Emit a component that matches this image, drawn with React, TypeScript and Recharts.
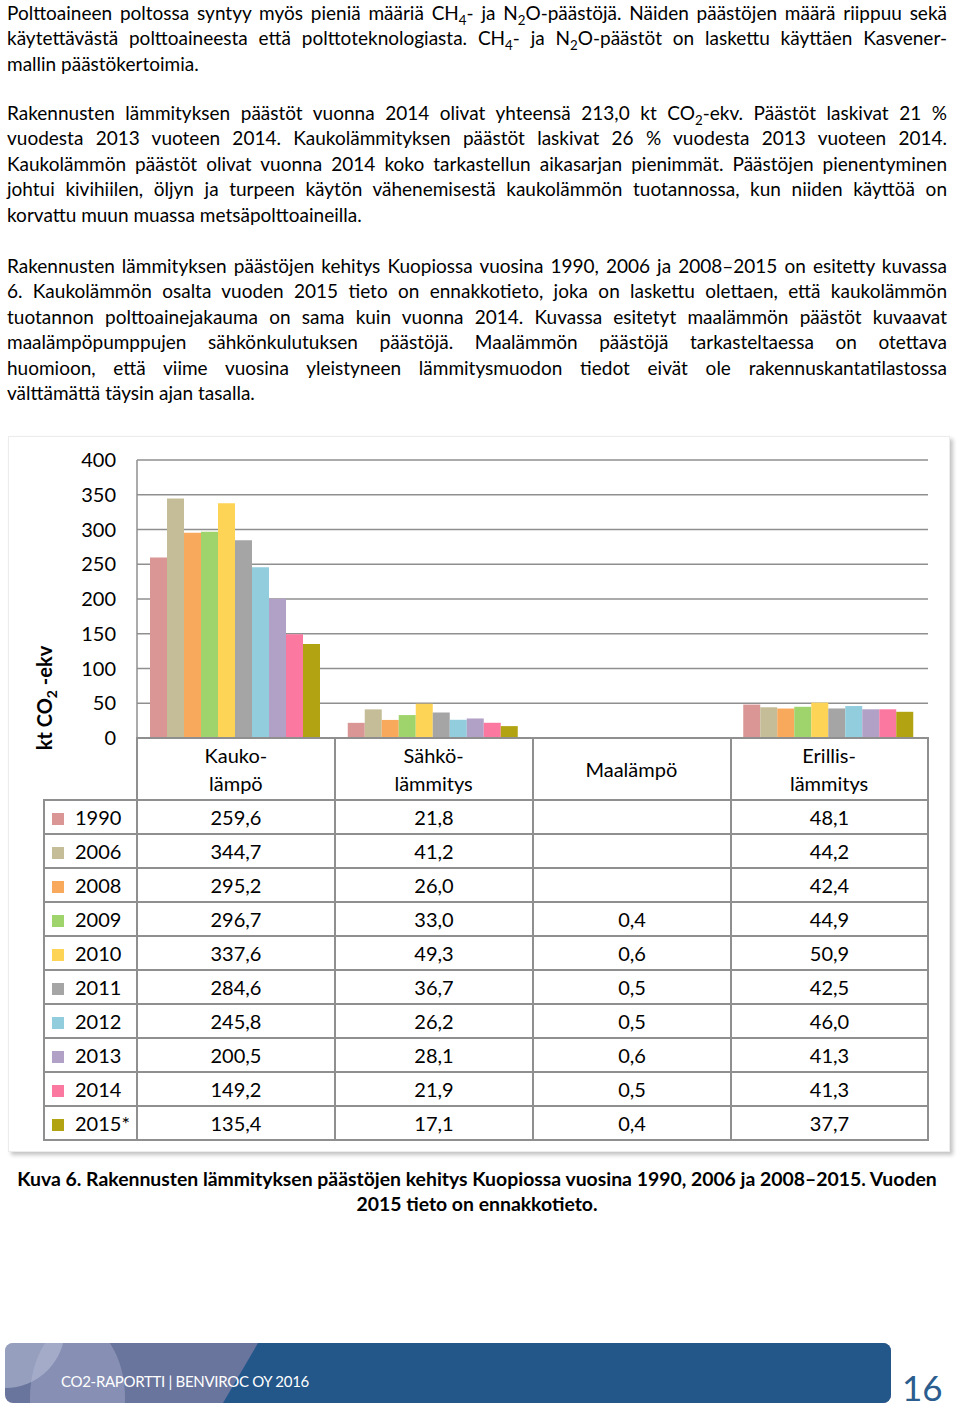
import React from 'react';
import { BarChart, Bar, XAxis, YAxis, CartesianGrid } from 'recharts';

const years = ['1990', '2006', '2008', '2009', '2010', '2011', '2012', '2013', '2014', '2015*'];
const yearColors = ['#d99694', '#c4bd97', '#f9a95b', '#9fd36b', '#fdd456', '#a5a5a5', '#92cddd', '#b2a1c7', '#fb78a0', '#b1a312'];
const categories = ['Kauko-\nlämpö', 'Sähkö-\nlämmitys', 'Maalämpö', 'Erillis-\nlämmitys'];

const kaukolampo = [259.6, 344.7, 295.2, 296.7, 337.6, 284.6, 245.8, 200.5, 149.2, 135.4];
const sahkolammitys = [21.8, 41.2, 26.0, 33.0, 49.3, 36.7, 26.2, 28.1, 21.9, 17.1];
const maalampo = [null, null, null, 0.4, 0.6, 0.5, 0.5, 0.6, 0.5, 0.4];
const erillislammitys = [48.1, 44.2, 42.4, 44.9, 50.9, 42.5, 46.0, 41.3, 41.3, 37.7];

const yTicks = [0, 50, 100, 150, 200, 250, 300, 350, 400];

const seriesByCategory = [kaukolampo, sahkolammitys, maalampo, erillislammitys];

const data = categories.map((name, c) => {
  const row: Record<string, any> = { name };
  years.forEach((_, i) => {
    row['y' + i] = seriesByCategory[c][i];
  });
  return row;
});

const FONT = 'Lato, "Open Sans", sans-serif';
const GRID = '#8f8f8f';

const fmt = (v: number | null) => (v == null ? '' : v.toFixed(1).replace('.', ','));

// "CH_4" -> CH<sub>4</sub>
const rich = (s: string) =>
  s.split(/_(\d)/).map((part, i) =>
    i % 2 === 1 ? (
      <sub key={i} style={{ fontSize: '0.7em', lineHeight: 0 }}>
        {part}
      </sub>
    ) : (
      <React.Fragment key={i}>{part}</React.Fragment>
    )
  );

const paragraphs: { top: number; lines: string[] }[] = [
  {
    top: 0,
    lines: [
      'Polttoaineen poltossa syntyy myös pieniä määriä CH_4- ja N_2O-päästöjä. Näiden päästöjen määrä riippuu sekä',
      'käytettävästä polttoaineesta että polttoteknologiasta. CH_4- ja N_2O-päästöt on laskettu käyttäen Kasvener-',
      'mallin päästökertoimia.',
    ],
  },
  {
    top: 100,
    lines: [
      'Rakennusten lämmityksen päästöt vuonna 2014 olivat yhteensä 213,0 kt CO_2-ekv. Päästöt laskivat 21 %',
      'vuodesta 2013 vuoteen 2014. Kaukolämmityksen päästöt laskivat 26 % vuodesta 2013 vuoteen 2014.',
      'Kaukolämmön päästöt olivat vuonna 2014 koko tarkastellun aikasarjan pienimmät. Päästöjen pienentyminen',
      'johtui kivihiilen, öljyn ja turpeen käytön vähenemisestä kaukolämmön tuotannossa, kun niiden käyttöä on',
      'korvattu muun muassa metsäpolttoaineilla.',
    ],
  },
  {
    top: 253,
    lines: [
      'Rakennusten lämmityksen päästöjen kehitys Kuopiossa vuosina 1990, 2006 ja 2008–2015 on esitetty kuvassa',
      '6. Kaukolämmön osalta vuoden 2015 tieto on ennakkotieto, joka on laskettu olettaen, että kaukolämmön',
      'tuotannon polttoainejakauma on sama kuin vuonna 2014. Kuvassa esitetyt maalämmön päästöt kuvaavat',
      'maalämpöpumppujen sähkönkulutuksen päästöjä. Maalämmön päästöjä tarkasteltaessa on otettava',
      'huomioon, että viime vuosina yleistyneen lämmitysmuodon tiedot eivät ole rakennuskantatilastossa',
      'välttämättä täysin ajan tasalla.',
    ],
  },
];

const CatTick = (props: any) => {
  const { x, y, payload } = props;
  const lines = String(payload.value).split('\n');
  const offsets = lines.length === 1 ? [29] : [15, 43];
  return (
    <g>
      {lines.map((l, i) => (
        <text
          key={i}
          x={x}
          y={y + offsets[i]}
          textAnchor="middle"
          dominantBaseline="central"
          fontFamily={FONT}
          fontSize={20}
          fill="#000"
        >
          {l}
        </text>
      ))}
    </g>
  );
};

const cell: React.CSSProperties = {
  border: `2px solid ${GRID}`,
  padding: 0,
  textAlign: 'center',
  verticalAlign: 'middle',
};

export default function App() {
  return (
    <div
      style={{
        position: 'absolute',
        left: 0,
        top: 0,
        width: 960,
        height: 1407,
        background: '#fff',
        fontFamily: FONT,
        color: '#000',
        overflow: 'hidden',
      }}
    >
      {paragraphs.map((p, pi) => (
        <div key={pi} style={{ position: 'absolute', left: 7, top: p.top, width: 940, fontSize: 19, lineHeight: '25.4px' }}>
          {p.lines.map((l, li) => (
            <div
              key={li}
              style={{
                textAlign: 'justify',
                textAlignLast: li === p.lines.length - 1 ? 'left' : 'justify',
                height: 25.4,
              }}
            >
              {rich(l)}
            </div>
          ))}
        </div>
      ))}

      {/* chart frame */}
      <div
        style={{
          position: 'absolute',
          left: 8,
          top: 436,
          width: 940,
          height: 714,
          border: '1px solid #ececec',
          boxShadow: '3px 3px 4px #c4c4c4',
        }}
      />

      <div style={{ position: 'absolute', left: 0, top: 430 }}>
        <BarChart
          width={960}
          height={370}
          data={data}
          margin={{ top: 30, right: 32, left: 77, bottom: 0 }}
          barCategoryGap={13}
          barGap={0}
        >
          <CartesianGrid vertical={false} stroke={GRID} strokeWidth={1.5} />
          <XAxis
            dataKey="name"
            height={62}
            interval={0}
            tickLine={false}
            tickSize={0}
            tick={<CatTick />}
            axisLine={{ stroke: GRID, strokeWidth: 1.5 }}
          />
          <YAxis
            width={60}
            domain={[0, 400]}
            ticks={yTicks}
            interval={0}
            tickLine={false}
            tickSize={0}
            tickMargin={21}
            axisLine={{ stroke: GRID, strokeWidth: 1.5 }}
            tick={{ fill: '#000', fontSize: 20, fontFamily: FONT }}
          />
          {years.map((y, i) => (
            <Bar key={y} dataKey={'y' + i} fill={yearColors[i]} isAnimationActive={false} />
          ))}
        </BarChart>
      </div>

      {/* y-axis title */}
      <div
        style={{
          position: 'absolute',
          left: 44 - 70,
          top: 698 - 14,
          width: 140,
          height: 28,
          lineHeight: '28px',
          textAlign: 'center',
          fontWeight: 700,
          fontSize: 20,
          transform: 'rotate(-90deg)',
          whiteSpace: 'nowrap',
        }}
      >
        kt CO<sub style={{ fontSize: '0.7em', lineHeight: 0 }}>2</sub> -ekv
      </div>

      {/* data table */}
      <table
        style={{
          position: 'absolute',
          left: 43,
          top: 737,
          borderCollapse: 'collapse',
          tableLayout: 'fixed',
          width: 886,
          fontSize: 20,
          fontFamily: FONT,
        }}
      >
        <colgroup>
          <col style={{ width: 93 }} />
          <col style={{ width: 198 }} />
          <col style={{ width: 198 }} />
          <col style={{ width: 198 }} />
          <col style={{ width: 197 }} />
        </colgroup>
        <tbody>
          <tr style={{ height: 62 }}>
            <td style={{ border: 'none', padding: 0 }} />
            {categories.map((c) => (
              <td key={c} style={cell} />
            ))}
          </tr>
          {years.map((y, i) => (
            <tr key={y} style={{ height: 34 }}>
              <td style={{ ...cell, textAlign: 'left', whiteSpace: 'nowrap' }}>
                <span
                  style={{
                    display: 'inline-block',
                    width: 12,
                    height: 12,
                    marginLeft: 7,
                    marginRight: 11,
                    background: yearColors[i],
                    verticalAlign: 'middle',
                    position: 'relative',
                    top: -1,
                  }}
                />
                {y}
              </td>
              {seriesByCategory.map((s, c) => (
                <td key={c} style={cell}>
                  {fmt(s[i] as number | null)}
                </td>
              ))}
            </tr>
          ))}
        </tbody>
      </table>

      {/* caption */}
      <div
        style={{
          position: 'absolute',
          left: 7,
          top: 1166,
          width: 940,
          textAlign: 'center',
          fontWeight: 700,
          fontSize: 19.4,
          lineHeight: '25px',
        }}
      >
        <div>Kuva 6. Rakennusten lämmityksen päästöjen kehitys Kuopiossa vuosina 1990, 2006 ja 2008–2015. Vuoden</div>
        <div>2015 tieto on ennakkotieto.</div>
      </div>

      {/* footer */}
      <div
        style={{
          position: 'absolute',
          left: 5,
          top: 1343,
          width: 886,
          height: 60,
          borderRadius: 8,
          overflow: 'hidden',
          background: '#6a759e',
        }}
      >
        <div style={{ position: 'absolute', left: -60, top: -75, width: 120, height: 120, borderRadius: '50%', background: 'rgba(205,210,228,0.45)' }} />
        <div style={{ position: 'absolute', left: 25, top: -20, width: 95, height: 150, borderRadius: '50%', background: 'rgba(190,196,220,0.35)' }} />
        <div
          style={{
            position: 'absolute',
            inset: 0,
            background: '#23578a',
            clipPath: 'polygon(253px 0, 100% 0, 100% 100%, 218px 100%)',
          }}
        />
        <div
          style={{
            position: 'absolute',
            left: 56,
            top: 29,
            color: '#fff',
            fontSize: 15,
            letterSpacing: -0.3,
            whiteSpace: 'nowrap',
          }}
        >
          CO2-RAPORTTI | BENVIROC OY 2016
        </div>
      </div>
      <div
        style={{
          position: 'absolute',
          left: 902,
          top: 1369,
          fontSize: 35,
          lineHeight: '36px',
          color: '#2b5d8e',
        }}
      >
        16
      </div>
    </div>
  );
}
